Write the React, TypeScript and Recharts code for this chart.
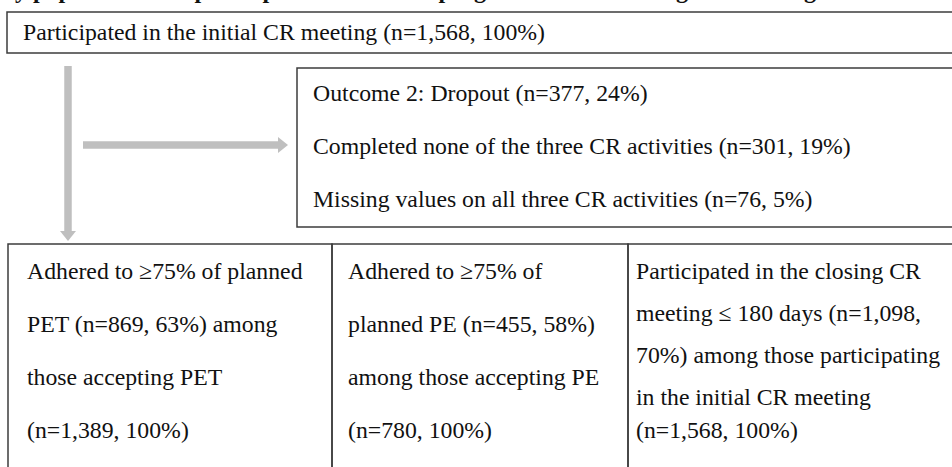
import React from 'react';
import { ScatterChart, Scatter, XAxis, YAxis, ReferenceArea, ReferenceLine } from 'recharts';

// box contents, line by line
const titleLines = ['Study population and participation in the CR program and the closing CR meeting'];
const initialLines = ['Participated in the initial CR meeting (n=1,568, 100%)'];
const dropoutLines = [
  'Outcome 2: Dropout (n=377, 24%)',
  'Completed none of the three CR activities (n=301, 19%)',
  'Missing values on all three CR activities (n=76, 5%)',
];
const petLines = [
  'Adhered to \u226575% of planned',
  'PET (n=869, 63%) among',
  'those accepting PET',
  '(n=1,389, 100%)',
];
const peLines = [
  'Adhered to \u226575% of',
  'planned PE (n=455, 58%)',
  'among those accepting PE',
  '(n=780, 100%)',
];
const closingLines = [
  'Participated in the closing CR',
  'meeting \u2264 180 days (n=1,098,',
  '70%) among those participating',
  'in the initial CR meeting',
  '(n=1,568, 100%)',
];

// layout in page pixels (x right, y down)
const W = 952;
const H = 467;
const boxes = [
  { x1: 7, x2: 970, y1: 12, y2: 53 },
  { x1: 297, x2: 970, y1: 68, y2: 227 },
  { x1: 8, x2: 332, y1: 244, y2: 490 },
  { x1: 332, x2: 628, y1: 244, y2: 490 },
  { x1: 628, x2: 970, y1: 244, y2: 490 },
];
const textBlocks = [
  { lines: initialLines, x: 23, ys: [40] },
  { lines: dropoutLines, x: 313, ys: [101, 154, 207] },
  { lines: petLines, x: 27, ys: [279, 332, 385, 438] },
  { lines: peLines, x: 348, ys: [279, 332, 385, 438] },
  { lines: closingLines, x: 636, ys: [279, 321, 363, 405, 438] },
];
const arrows = [
  { from: { x: 68, y: 66 }, to: { x: 68, y: 241 } },
  { from: { x: 83, y: 145 }, to: { x: 288, y: 145 } },
];

const textPoints = textBlocks.flatMap((b) =>
  b.lines.map((t, i) => ({ x: b.x, y: b.ys[i], text: t }))
);
const titlePoints = titleLines.map((t) => ({ x: -33, y: -2, text: t }));

const FONT = '"Liberation Serif", "Times New Roman", serif';
const ARROW = '#bfbfbf';

const TextShape = (props: any) => (
  <text x={props.cx} y={props.cy} fontFamily={FONT} fontSize={23.75} fill="#111">
    {props.payload.text}
  </text>
);

const TitleShape = (props: any) => (
  <text x={props.cx} y={props.cy} fontFamily={FONT} fontSize={24} fontWeight="bold" fill="#111">
    {props.payload.text}
  </text>
);

const ArrowShape = (props: any) => {
  const { x1, y1, x2, y2 } = props;
  const len = Math.hypot(x2 - x1, y2 - y1);
  const ux = (x2 - x1) / len;
  const uy = (y2 - y1) / len;
  const head = 10;
  const half = 8;
  const bx = x2 - ux * head;
  const by = y2 - uy * head;
  const pts = [
    `${x2},${y2}`,
    `${bx - uy * half},${by + ux * half}`,
    `${bx + uy * half},${by - ux * half}`,
  ].join(' ');
  return (
    <g>
      <line x1={x1} y1={y1} x2={bx} y2={by} stroke={ARROW} strokeWidth={7.5} />
      <polygon points={pts} fill={ARROW} />
    </g>
  );
};

export default function App() {
  return (
    <div style={{ position: 'absolute', left: 0, top: 0, background: '#fff' }}>
      <ScatterChart width={W} height={H} margin={{ top: 0, right: 0, bottom: 0, left: 0 }}>
        <XAxis type="number" dataKey="x" domain={[0, W]} allowDataOverflow hide />
        <YAxis type="number" dataKey="y" domain={[0, H]} allowDataOverflow reversed hide width={0} />
        {boxes.map((b, i) => (
          <ReferenceArea
            key={`box-${i}`}
            x1={b.x1}
            x2={b.x2}
            y1={b.y1}
            y2={b.y2}
            ifOverflow="visible"
            fill="none"
            fillOpacity={0}
            stroke="#3c3c3c"
            strokeWidth={1.5}
          />
        ))}
        {arrows.map((a, i) => (
          <ReferenceLine key={`arrow-${i}`} segment={[a.from, a.to]} shape={ArrowShape} />
        ))}
        <Scatter data={titlePoints} shape={TitleShape} isAnimationActive={false} />
        <Scatter data={textPoints} shape={TextShape} isAnimationActive={false} />
      </ScatterChart>
    </div>
  );
}
